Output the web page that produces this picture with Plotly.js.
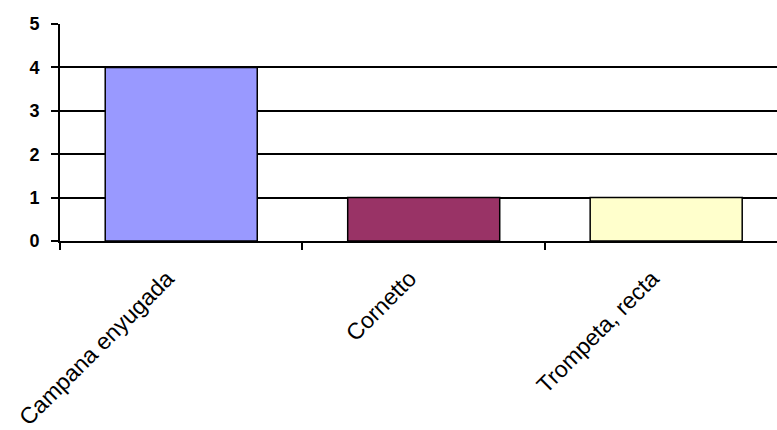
<!DOCTYPE html>
<html>
<head>
<meta charset="utf-8">
<script src="https://cdn.plot.ly/plotly-3.0.1.min.js"></script>
<style>html,body{margin:0;padding:0;background:#fff;}#chart{width:777px;height:430px;}</style>
</head>
<body>
<div id="chart"></div>
<script>
const categories = ["Campana enyugada", "Cornetto", "Trompeta, recta"];
const values = [4, 1, 1];
const barColors = ["#9999FF", "#993366", "#FFFFCC"];
const yTickValues = [0, 1, 2, 3, 4, 5];

const trace = {
  type: "bar",
  x: categories,
  y: values,
  marker: { color: barColors, line: { color: "#000000", width: 1.5 } },
  hoverinfo: "skip"
};

const layout = {
  width: 777,
  height: 430,
  margin: { l: 60, r: 0, t: 24, b: 189 },
  paper_bgcolor: "#ffffff",
  plot_bgcolor: "#ffffff",
  showlegend: false,
  bargap: 0.373,
  xaxis: {
    type: "category",
    range: [-0.5, 2.457],
    tickson: "boundaries",
    ticks: "outside",
    ticklen: 7,
    tickwidth: 2,
    tickcolor: "#000000",
    tickangle: -45,
    ticklabelstandoff: 13,
    ticklabelshift: -14,
    showgrid: false,
    showline: true,
    linecolor: "#000000",
    linewidth: 2,
    tickfont: { family: "Liberation Sans, Arial, sans-serif", size: 23, color: "#000000" }
  },
  yaxis: {
    range: [0, 5],
    tickvals: yTickValues,
    ticktext: yTickValues.map(String),
    ticks: "outside",
    ticklen: 7,
    tickwidth: 2,
    tickcolor: "#000000",
    ticklabelstandoff: 8,
    showgrid: true,
    gridcolor: "#000000",
    gridwidth: 2,
    zeroline: false,
    showline: true,
    linecolor: "#000000",
    linewidth: 2,
    tickfont: { family: "Liberation Sans, Arial, sans-serif", size: 18, color: "#000000", weight: "bold" }
  }
};

Plotly.newPlot("chart", [trace], layout, { displayModeBar: false, staticPlot: true });
</script>
</body>
</html>
